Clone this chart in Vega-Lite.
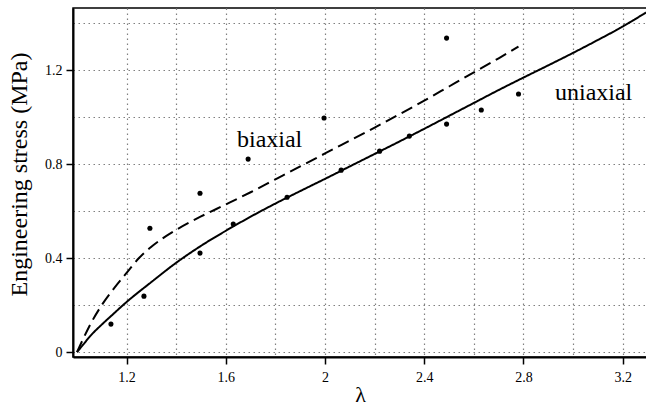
{
  "$schema": "https://vega.github.io/schema/vega-lite/v6.json",
  "autosize": {"type": "none"},
  "padding": {"left": 73, "top": 8, "right": 0, "bottom": 50},
  "width": 574,
  "height": 349,
  "background": "white",
  "config": {
    "view": {"stroke": "black", "strokeWidth": 1.5},
    "font": "Liberation Serif"
  },
  "datasets": {
    "curves": [
      {"lambda": 1.0, "stress": 0.0, "model": "uniaxial"},
      {"lambda": 1.03, "stress": 0.038, "model": "uniaxial"},
      {"lambda": 1.05, "stress": 0.064, "model": "uniaxial"},
      {"lambda": 1.1, "stress": 0.117, "model": "uniaxial"},
      {"lambda": 1.133, "stress": 0.149, "model": "uniaxial"},
      {"lambda": 1.2, "stress": 0.213, "model": "uniaxial"},
      {"lambda": 1.3, "stress": 0.298, "model": "uniaxial"},
      {"lambda": 1.4, "stress": 0.38, "model": "uniaxial"},
      {"lambda": 1.5, "stress": 0.452, "model": "uniaxial"},
      {"lambda": 1.6, "stress": 0.516, "model": "uniaxial"},
      {"lambda": 1.7, "stress": 0.576, "model": "uniaxial"},
      {"lambda": 1.8, "stress": 0.632, "model": "uniaxial"},
      {"lambda": 1.9, "stress": 0.685, "model": "uniaxial"},
      {"lambda": 2.0, "stress": 0.737, "model": "uniaxial"},
      {"lambda": 2.1, "stress": 0.79, "model": "uniaxial"},
      {"lambda": 2.2, "stress": 0.843, "model": "uniaxial"},
      {"lambda": 2.3, "stress": 0.896, "model": "uniaxial"},
      {"lambda": 2.4, "stress": 0.95, "model": "uniaxial"},
      {"lambda": 2.5, "stress": 1.005, "model": "uniaxial"},
      {"lambda": 2.6, "stress": 1.06, "model": "uniaxial"},
      {"lambda": 2.7, "stress": 1.115, "model": "uniaxial"},
      {"lambda": 2.8, "stress": 1.168, "model": "uniaxial"},
      {"lambda": 2.9, "stress": 1.22, "model": "uniaxial"},
      {"lambda": 3.0, "stress": 1.273, "model": "uniaxial"},
      {"lambda": 3.1, "stress": 1.328, "model": "uniaxial"},
      {"lambda": 3.2, "stress": 1.385, "model": "uniaxial"},
      {"lambda": 3.294, "stress": 1.445, "model": "uniaxial"},
      {"lambda": 1.0, "stress": 0.0, "model": "biaxial"},
      {"lambda": 1.02, "stress": 0.045, "model": "biaxial"},
      {"lambda": 1.05, "stress": 0.11, "model": "biaxial"},
      {"lambda": 1.1, "stress": 0.2, "model": "biaxial"},
      {"lambda": 1.15, "stress": 0.272, "model": "biaxial"},
      {"lambda": 1.2, "stress": 0.337, "model": "biaxial"},
      {"lambda": 1.25, "stress": 0.4, "model": "biaxial"},
      {"lambda": 1.3, "stress": 0.448, "model": "biaxial"},
      {"lambda": 1.35, "stress": 0.487, "model": "biaxial"},
      {"lambda": 1.4, "stress": 0.52, "model": "biaxial"},
      {"lambda": 1.5, "stress": 0.577, "model": "biaxial"},
      {"lambda": 1.6, "stress": 0.628, "model": "biaxial"},
      {"lambda": 1.7, "stress": 0.68, "model": "biaxial"},
      {"lambda": 1.8, "stress": 0.735, "model": "biaxial"},
      {"lambda": 1.9, "stress": 0.79, "model": "biaxial"},
      {"lambda": 2.0, "stress": 0.845, "model": "biaxial"},
      {"lambda": 2.2, "stress": 0.955, "model": "biaxial"},
      {"lambda": 2.4, "stress": 1.07, "model": "biaxial"},
      {"lambda": 2.5, "stress": 1.13, "model": "biaxial"},
      {"lambda": 2.6, "stress": 1.19, "model": "biaxial"},
      {"lambda": 2.7, "stress": 1.25, "model": "biaxial"},
      {"lambda": 2.78, "stress": 1.3, "model": "biaxial"}
    ],
    "points": [
      {"lambda": 1.137, "stress": 0.119},
      {"lambda": 1.27, "stress": 0.238},
      {"lambda": 1.294, "stress": 0.527},
      {"lambda": 1.496, "stress": 0.421},
      {"lambda": 1.496, "stress": 0.676},
      {"lambda": 1.63, "stress": 0.545},
      {"lambda": 1.69, "stress": 0.821},
      {"lambda": 1.847, "stress": 0.659},
      {"lambda": 1.996, "stress": 0.996},
      {"lambda": 2.065, "stress": 0.774},
      {"lambda": 2.22, "stress": 0.855},
      {"lambda": 2.34, "stress": 0.919},
      {"lambda": 2.49, "stress": 0.97},
      {"lambda": 2.49, "stress": 1.336},
      {"lambda": 2.63, "stress": 1.03},
      {"lambda": 2.78, "stress": 1.098}
    ],
    "labels": [
      {"lambda": 1.645, "stress": 0.872, "text": "biaxial"},
      {"lambda": 2.927, "stress": 1.072, "text": "uniaxial"}
    ]
  },
  "encoding": {
    "x": {
      "field": "lambda",
      "type": "quantitative",
      "scale": {"domain": [0.984, 3.298], "nice": false, "zero": false},
      "axis": {
        "title": "λ",
        "titleFont": "Liberation Serif",
        "titleFontSize": 22,
        "titleFontWeight": "normal",
        "titleColor": "black",
        "titleY": 44,
        "titleBaseline": "alphabetic",
        "values": [1.2, 1.4, 1.6, 1.8, 2.0, 2.2, 2.4, 2.6, 2.8, 3.0, 3.2],
        "labelExpr": "(round(datum.value*10)%4==0) ? format(datum.value,'~g') : ''",
        "labelFont": "Liberation Serif",
        "labelFontSize": 14,
        "labelColor": "black",
        "labelPadding": 6,
        "labelFlush": false,
        "domainColor": "black",
        "domainWidth": 2,
        "tickColor": "black",
        "tickWidth": 1.5,
        "tickSize": 7,
        "tickOpacity": {"condition": {"test": "round(datum.value*10)%4==0", "value": 1}, "value": 0},
        "grid": true,
        "gridColor": "#808080",
        "gridDash": [1.5, 3.5],
        "gridWidth": 1.2
      }
    },
    "y": {
      "field": "stress",
      "type": "quantitative",
      "scale": {"domain": [-0.021, 1.464], "nice": false, "zero": false},
      "axis": {
        "title": "Engineering stress (MPa)",
        "titleFont": "Liberation Serif",
        "titleFontSize": 24,
        "titleFontWeight": "normal",
        "titleColor": "black",
        "titleX": -54,
        "titleY": 166,
        "titleAlign": "center",
        "titleBaseline": "middle",
        "values": [0, 0.2, 0.4, 0.6, 0.8, 1.0, 1.2, 1.4],
        "labelExpr": "(round(datum.value*10)%4==0) ? format(datum.value,'~g') : ''",
        "labelFont": "Liberation Serif",
        "labelFontSize": 14,
        "labelColor": "black",
        "labelPadding": 4,
        "labelFlush": false,
        "domainColor": "black",
        "domainWidth": 2,
        "tickColor": "black",
        "tickWidth": 1.5,
        "tickSize": 7,
        "tickOpacity": {"condition": {"test": "round(datum.value*10)%4==0", "value": 1}, "value": 0},
        "grid": true,
        "gridColor": "#808080",
        "gridDash": [1.5, 3.5],
        "gridWidth": 1.2
      }
    }
  },
  "layer": [
    {
      "data": {"name": "curves"},
      "mark": {"type": "line", "color": "black", "strokeWidth": 2, "clip": true, "interpolate": "monotone"},
      "encoding": {
        "detail": {"field": "model", "type": "nominal"},
        "strokeDash": {
          "field": "model",
          "type": "nominal",
          "scale": {"domain": ["uniaxial", "biaxial"], "range": [[1, 0], [12, 6]]},
          "legend": null
        }
      }
    },
    {
      "data": {"name": "points"},
      "mark": {"type": "circle", "color": "black", "size": 26, "opacity": 1}
    },
    {
      "data": {"name": "labels"},
      "mark": {"type": "text", "font": "Liberation Serif", "fontSize": 24, "align": "left", "baseline": "alphabetic", "color": "black"},
      "encoding": {"text": {"field": "text", "type": "nominal"}}
    }
  ]
}
